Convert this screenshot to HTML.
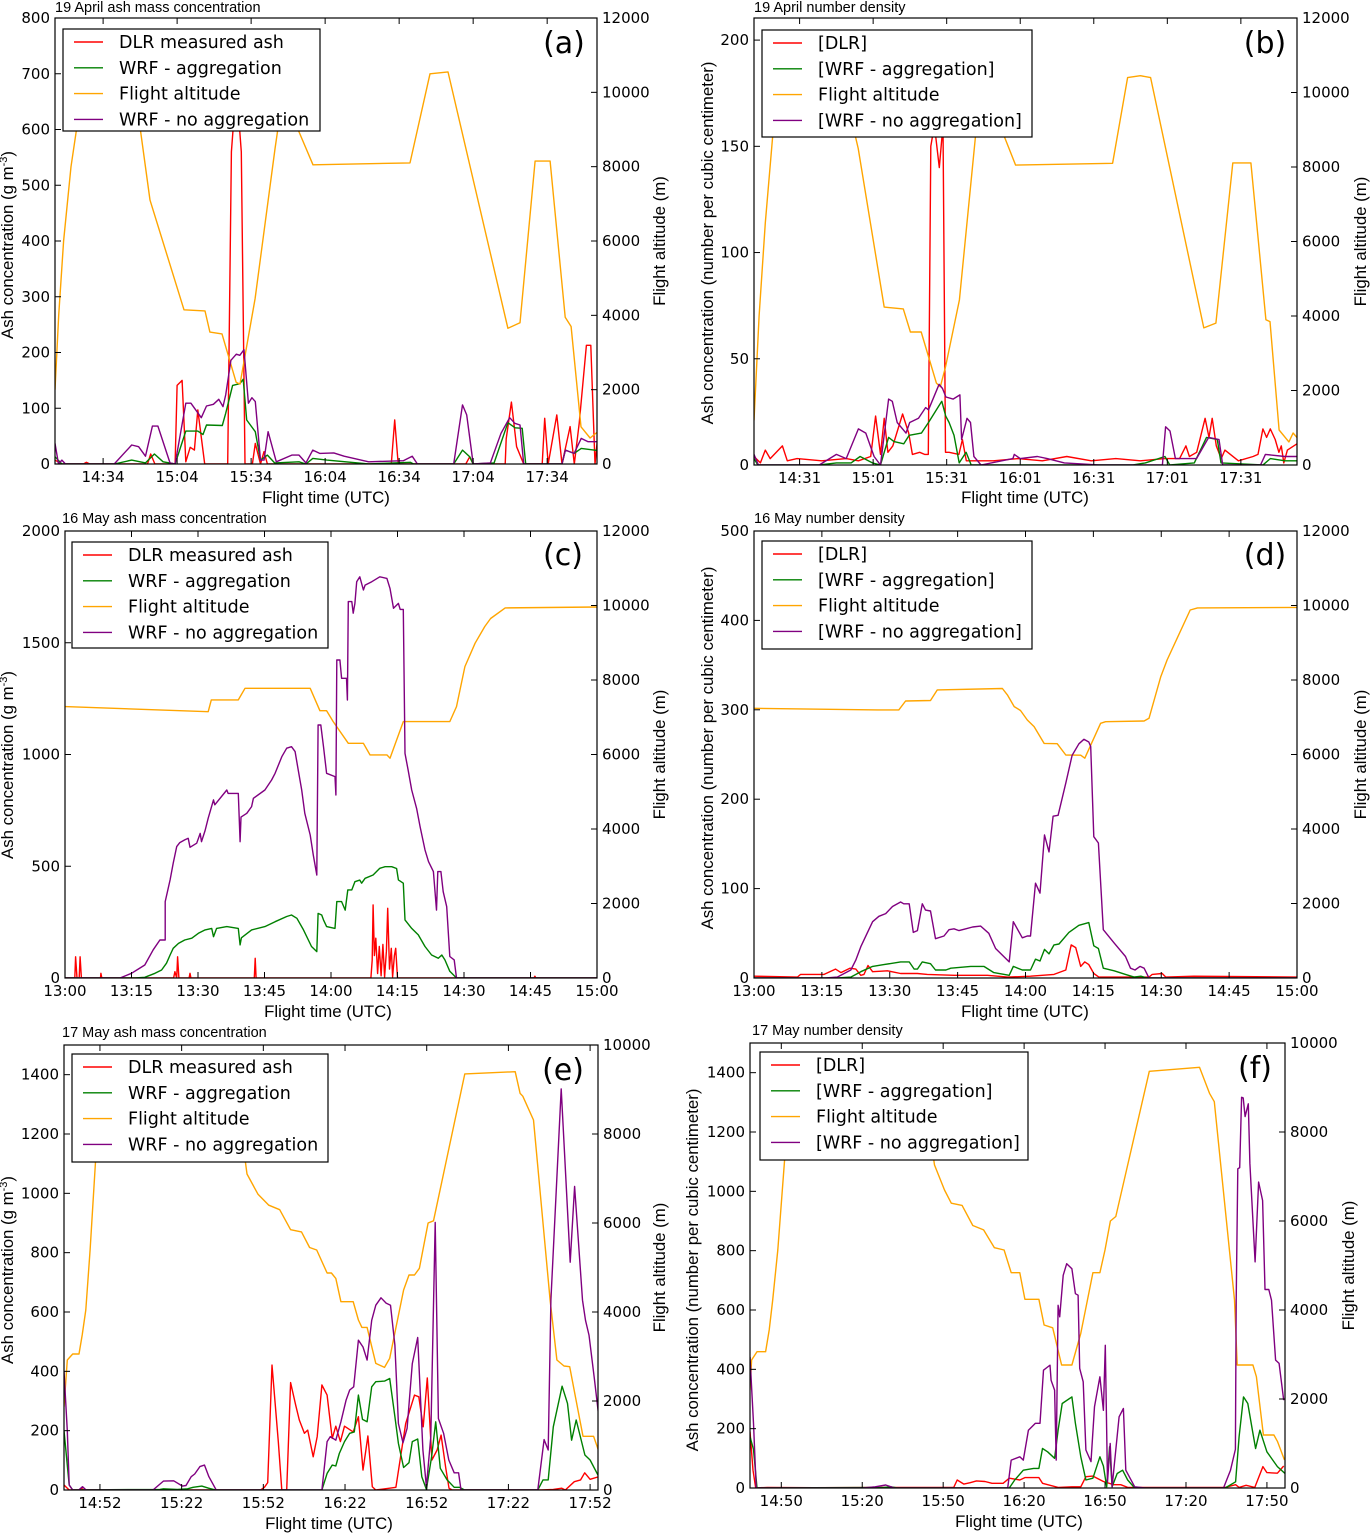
<!DOCTYPE html>
<html><head><meta charset="utf-8"><style>
html,body{margin:0;padding:0;background:#fff}
svg{display:block}
text{font-family:"DejaVu Sans","Liberation Sans",sans-serif;fill:#000}
.ttl{font-family:"Liberation Sans",sans-serif;font-size:14.5px}
.axl{font-family:"Liberation Sans",sans-serif;font-size:16.8px}
</style></head><body>
<svg id="chart" width="1370" height="1533" viewBox="0 0 1370 1533" xmlns="http://www.w3.org/2000/svg"></svg>
<script>
// ---------- DATA (time in minutes after base hour, value) ----------
const seriesNames = ['DLR measured ash','WRF - aggregation','Flight altitude','WRF - no aggregation'];
const seriesNamesND = ['[DLR]','[WRF - aggregation]','Flight altitude','[WRF - no aggregation]'];
// panel a: 19 April mass
const aXTicks=[34,64,94,124,154,184,214];
const aXLabels=['14:34','15:04','15:34','16:04','16:34','17:04','17:34'];
const aYTicks=[0,100,200,300,400,500,600,700,800];
const aY2Ticks=[0,2000,4000,6000,8000,10000,12000];
const aRed=[[14.5,7],[17.3,0],[26,0],[27.2,3],[28.6,0],[52,0],[53.3,18],[55,0],[63.2,0],[64,141],[66,150],[67.5,4],[69.3,30],[71,25],[72.4,97],[75.2,0],[82.3,0],[84.5,0],[86,560],[87,620],[89,620],[90,560],[91.5,0],[94.5,0],[95.7,37],[97.8,0],[99.2,22],[100.6,0],[150.8,0],[152.2,79],[153.6,0],[181,0],[182.6,13],[184,0],[197,0],[197.4,45],[199.5,111],[201.6,31],[204.5,0],[212,0],[213,82],[214.4,0],[217.9,88],[220,0],[223.3,67],[225,0],[227,73],[229.9,213],[231.7,213],[233.4,0],[234.8,64]];
const aGreen=[[14.5,13],[17.3,0],[38.5,0],[45.6,7],[51.2,2],[54.8,18],[58.3,4],[63.2,0],[67.5,59],[72.4,59],[74.5,53],[75.9,70],[82.3,69],[83.7,91],[86.5,141],[89.4,144],[90.8,152],[92.2,79],[95.7,58],[97.8,7],[100.6,16],[103.5,2],[113.4,4],[116.2,0],[119,10],[124.7,7],[141.6,0],[158.6,3],[159.8,0],[176.1,0],[179.7,25],[182.6,13],[184,0],[192.5,2],[198.1,74],[201,65],[203.9,64],[205.3,0],[220,0],[221.4,25],[224.9,19],[227.8,28],[234.8,24]];
const aAlt=[[14.5,2000],[16,4000],[18,6000],[21,8000],[25,9800],[30,11000],[45,11000],[53,7100],[66.8,4150],[75.3,4120],[77.3,3550],[82.2,3500],[87.9,2200],[89.5,2150],[95.6,4450],[103.7,8500],[107,10000],[110,10300],[113,9000],[119.1,8050],[158.4,8100],[166.5,10500],[173.8,10550],[198.1,3650],[203,3800],[209.1,8150],[215.2,8150],[221.3,3950],[223.7,3700],[227.7,1000],[231.4,700],[234.2,850]];
const aPurple=[[14.5,37],[15.9,0],[17.3,7],[18.7,0],[38.5,0],[45.6,34],[48.4,31],[51.2,14],[54,68],[56.2,68],[61.1,2],[63.2,0],[67.5,109],[69.6,109],[73.8,83],[75.9,104],[78.7,107],[80.9,116],[82.6,103],[83.7,124],[85.8,186],[88,197],[89.4,195],[91.1,205],[92.9,109],[94.3,119],[95.7,112],[97.8,7],[99.2,7],[100.9,58],[104.2,4],[110.5,16],[113.4,16],[116.2,2],[119,25],[121.8,19],[127.5,20],[131.7,14],[141.6,4],[155.7,6],[159.3,14],[161.4,0],[176.1,0],[179.7,106],[181.4,88],[184,0],[191,2],[195.3,55],[198.8,83],[200.9,73],[203,70],[204.5,0],[220,0],[221.4,25],[224.9,19],[227.8,46],[230.6,40],[234.8,40]];
// panel b: 19 April number density
const bXTicks=[31,61,91,121,151,181,211];
const bXLabels=['14:31','15:01','15:31','16:01','16:31','17:01','17:31'];
const bYTicks=[0,50,100,150,200];
const bY2Ticks=[0,2000,4000,6000,8000,10000,12000];
const bRed=[[12.4,4],[15,1],[17,7],[19,3],[24,9],[26,2],[30,3],[40,2],[50,3],[55,2],[60,4],[62,23],[64,5],[65.5,22],[67,6],[69,9],[73,24],[75.5,15],[77,5],[80,6],[82,5],[83.5,5],[84.5,150],[86,160],[88,140],[89.5,160],[90.5,6],[92,6],[96,5],[97.4,12],[99,2],[110,2],[120,3],[130,2],[140,4],[150,2],[160,3],[170,2],[180,3],[186,3],[188.6,9],[190,4],[193,6],[196.4,22],[198,13],[199.3,22],[201,9],[203,3],[204.5,7],[210,2],[216,4],[218,5],[220,17],[221.5,13],[223,17],[225,12],[226.5,6],[227.5,9],[228.5,1],[230,7],[233.9,10]];
const bGreen=[[12.4,3],[14,0],[39,0],[46,1],[52,1],[55.7,4],[60.7,1],[64,0],[67.3,13],[69.5,11],[73.5,10],[75.7,14],[80.7,15],[83.6,20],[87.9,28],[89,30],[90.6,23],[92,20],[94,14],[96.1,1],[98.9,6],[101,0],[167,0],[172,1],[180,4],[182,0],[192,1],[197,13],[201.4,12],[202.9,1],[220,0],[223,3],[229,2],[233.9,2]];
const bAlt=[[12.4,1200],[14.5,4000],[17,6500],[20,8800],[24,10300],[28,11000],[46,11000],[54.9,8500],[65.5,4240],[73.3,4190],[76.2,3570],[80.6,3570],[86.8,2200],[88.4,2100],[90.5,2630],[96.2,4430],[102.7,8800],[106,10000],[110,10200],[114,8900],[119.1,8050],[158.7,8100],[164.8,10400],[170,10450],[174.2,10400],[195.9,3680],[200.8,3810],[207.7,8110],[215.1,8110],[221.2,3900],[222.9,3850],[226.6,940],[230.6,620],[232.3,860],[234.4,700]];
const bPurple=[[12.4,5],[14.2,0],[39,0],[46,5],[50,3],[55,17],[58,15],[61.4,4],[64,0],[67.3,31],[68.8,30],[70.8,20],[74.4,15],[75.9,20],[79.5,22],[82.4,27],[83.6,26],[87.9,38],[89.3,36],[90.7,32],[93.6,31],[96.4,33],[97.1,12],[99.3,22],[100.7,20],[102.1,4],[105,0],[118,3],[118.6,5],[121,3],[128,4],[132,3],[139,1],[153,0],[179,0],[180.3,18],[182.1,16],[184.3,3],[192.9,3],[197.9,13],[202.1,12],[203.6,0],[219,0],[221,5],[229,4],[233.9,4]];
// panel c: 16 May mass
const cXTicks=[0,15,30,45,60,75,90,105,120];
const cXLabels=['13:00','13:15','13:30','13:45','14:00','14:15','14:30','14:45','15:00'];
const cYTicks=[0,500,1000,1500,2000];
const cY2Ticks=[0,2000,4000,6000,8000,10000,12000];
const cRed=[[0,0],[2.2,0],[2.4,95],[2.7,0],[3.2,0],[3.4,95],[3.7,0],[8,0],[8.1,21],[8.3,0],[24.5,0],[24.8,28],[25.2,0],[25.4,95],[25.7,0],[28,0],[28.2,21],[28.4,0],[42.7,0],[42.9,88],[43.1,0],[69,0],[69.3,80],[69.5,327],[69.8,100],[70.1,178],[70.5,20],[70.9,141],[71.3,10],[71.7,150],[72.1,5],[72.5,120],[72.8,312],[73.2,40],[73.6,133],[73.9,5],[74.3,100],[74.6,133],[75,0],[105.8,0],[106,8],[106.2,0],[120,0]];
const cGreen=[[0,0],[15.8,0],[18,3],[20.3,21],[21.8,36],[22.9,66],[23.7,103],[24.4,133],[25.6,155],[27,170],[28.6,178],[30.1,200],[31.6,215],[33.1,222],[33.5,185],[34.2,222],[36.5,230],[39.1,222],[39.5,148],[39.8,180],[42.1,215],[45.1,230],[47.4,252],[50,275],[51.1,282],[52.3,267],[53.8,215],[55.6,141],[56.8,118],[57.1,289],[57.9,282],[58.3,260],[59,230],[60.9,222],[61.3,342],[62.4,342],[63.2,304],[63.8,394],[64.7,394],[65.4,431],[66.5,438],[66.9,424],[67.7,446],[69.5,461],[71,491],[72.2,498],[73.7,498],[74.8,490],[75.2,439],[76.3,424],[76.7,260],[78.2,222],[79.7,193],[81.2,141],[82.7,103],[84.2,88],[85,103],[85.7,81],[86.8,30],[88.3,0],[120,0]];
const cAlt=[[0,7286],[32.3,7150],[33,7465],[39.1,7465],[40.6,7778],[55.3,7778],[57.5,7177],[59,7177],[60.5,6882],[63.9,6301],[67.3,6301],[68.8,5988],[72.6,5988],[73.3,5900],[76.3,6882],[86.8,6882],[88.3,7286],[90.2,8360],[92.5,8987],[94.7,9435],[96,9650],[99.3,9935],[120,9960]];
const cPurple=[[0,0],[12.4,0],[15,21],[16.5,40],[18,58],[19.9,126],[21.4,170],[22.6,170],[22.6,342],[23.7,439],[24.4,513],[25.2,588],[25.9,606],[27,618],[27.8,625],[28.2,585],[29.7,603],[30.5,647],[30.8,610],[31.6,660],[32.3,715],[33.5,797],[33.8,775],[36.5,841],[36.8,826],[39.1,826],[39.5,610],[39.7,720],[41,737],[42.1,767],[42.5,804],[45.1,841],[46.6,886],[47.4,916],[48.9,990],[50,1028],[51.1,1035],[51.9,1013],[52.6,931],[53.4,841],[54.1,737],[55.3,640],[56,550],[56.8,461],[57.1,1132],[57.7,1132],[58.3,1035],[59,916],[60.9,901],[61.1,819],[61.3,1423],[62,1423],[62.4,1341],[63.5,1341],[63.7,1244],[63.9,1684],[64.7,1684],[65,1632],[65.4,1676],[65.8,1773],[66.5,1795],[67.3,1736],[67.7,1758],[69.2,1773],[71,1795],[72.6,1788],[73.3,1743],[74.1,1654],[75.2,1676],[75.6,1649],[76.3,1649],[76.7,1005],[77.4,931],[78.2,841],[79.3,759],[80.1,677],[81.2,573],[82,521],[83.1,476],[83.8,304],[84.1,476],[84.8,476],[85.3,386],[86.1,319],[86.8,96],[87.8,81],[88.3,0],[120,0]];
// panel d: 16 May number density
const dXTicks=[0,15,30,45,60,75,90,105,120];
const dXLabels=['13:00','13:15','13:30','13:45','14:00','14:15','14:30','14:45','15:00'];
const dYTicks=[0,100,200,300,400,500];
const dY2Ticks=[0,2000,4000,6000,8000,10000,12000];
const dRed=[[0,2],[9.6,1],[10.3,4],[15.5,4],[18,10],[19.2,6],[21.2,11],[22.5,10],[23.6,3],[24.3,4],[25.2,14],[26.2,7],[29.5,8],[32.4,5],[36.1,5],[38.3,4],[44.2,3],[51.6,3],[56,1],[61.1,2],[66.3,4],[68.9,9],[70.1,37],[71.1,34],[72.2,13],[73.1,18],[74,15],[75.1,5],[76.2,1],[87.3,1],[88,4],[90.2,5],[91,1],[97.2,2],[120,1]];
const dGreen=[[0,0],[18.4,0],[21.4,1],[23.6,7],[26.2,13],[28.7,15],[32.4,18],[34.3,18],[35.4,10],[36.1,10],[37.2,18],[39,16],[40.1,9],[42.4,9],[43.5,11],[47.9,13],[50.8,13],[53,6],[56.4,3],[57.3,13],[59.3,9],[61.1,9],[62.2,21],[63.2,19],[64.2,32],[65.2,27],[66.3,37],[67.4,38],[69.6,51],[71.8,59],[74,62],[75.1,36],[76.1,33],[77.2,11],[79.6,8],[82.1,4],[84,1],[85.5,2],[86.9,0],[120,0]];
const dAlt=[[0,7241],[27.3,7196],[32,7196],[33.5,7437],[39,7450],[40.5,7733],[54.9,7773],[56,7600],[57.5,7285],[58.9,7180],[60.4,6927],[61.9,6750],[64.1,6299],[67,6290],[68.9,5987],[72.2,5980],[73.1,5902],[76.6,6838],[77.7,6880],[86.2,6900],[87.3,6972],[89.9,8091],[91.3,8538],[96.4,9880],[98,9935],[120,9950]];
const dPurple=[[0,0],[15.8,0],[18.4,1],[21.4,9],[22.5,20],[23.6,35],[25,50],[26.2,63],[27.6,69],[29.1,72],[30.6,80],[32.4,85],[33.1,83],[34.3,83],[35.2,51],[36.1,53],[37.2,83],[37.9,76],[39,75],[40.1,44],[42,47],[43.1,54],[44.2,55],[45.3,53],[46.8,55],[48.3,57],[50.1,58],[51.9,50],[53.4,33],[56.4,18],[57.3,63],[59.3,45],[60.4,47],[61.1,47],[62.2,106],[63.2,95],[64.2,160],[65.2,141],[66.1,181],[67.2,182],[68.9,218],[70.3,249],[71.8,262],[72.9,267],[74,264],[74.4,259],[75.1,158],[76.1,151],[77.2,54],[79.6,39],[82.1,24],[83.2,11],[84.2,9],[85.3,13],[86.2,11],[87.3,0],[120,0]];
// panel e: 17 May mass
const eXTicks=[52,82,112,142,172,202,232];
const eXLabels=['14:52','15:22','15:52','16:22','16:52','17:22','17:52'];
const eYTicks=[0,200,400,600,800,1000,1200,1400];
const eY2Ticks=[0,2000,4000,6000,8000,10000];
const eRed=[[38.8,17],[40.7,0],[44.5,0],[45.2,6],[46,0],[111,0],[112.4,9],[113.6,25],[115.2,421],[117.5,163],[118.8,0],[120.6,0],[122,362],[123.9,286],[125.2,236],[127.1,191],[128.3,202],[130.3,112],[131.8,180],[133.5,354],[135.4,320],[137.3,174],[138.6,215],[140.3,163],[141.8,215],[145,196],[146.9,247],[148.6,67],[150.4,182],[152,11],[153.3,0],[158.4,6],[160.7,9],[164.3,224],[167.5,320],[169.1,314],[170.7,213],[172.2,378],[173.9,101],[175.8,135],[177.3,185],[179,73],[180.2,6],[181.4,0],[214.1,0],[218.5,2],[221.6,6],[222.9,0],[226.2,28],[228.5,34],[230,58],[232,36],[235.2,45]];
const eGreen=[[38.8,200],[40.7,17],[42,0],[74,2],[75.3,4],[80.4,2],[84.2,4],[86.2,9],[89.4,13],[91.9,6],[94.5,0],[133.5,0],[135.4,56],[137.3,84],[138.6,81],[139.9,123],[141.8,163],[143.7,191],[145.4,196],[146.9,320],[148.4,238],[150.1,230],[151.8,348],[153.3,365],[156.5,367],[158.4,376],[160.3,247],[161.6,157],[163.5,76],[165.5,92],[166.7,163],[168.7,172],[170.2,45],[171.9,2],[173.8,112],[175.3,230],[177,73],[179.5,34],[182.1,9],[184,9],[185.9,0],[212.8,0],[214.7,34],[216.6,34],[218.5,213],[221.7,350],[223.7,292],[225.2,168],[226.9,236],[230.1,118],[232,101],[235.2,45]];
const eAlt=[[38.8,1872],[40,2921],[42,3056],[44.3,3056],[45.5,3483],[46.8,4045],[48.4,5393],[51,8000],[54,9400],[101,9400],[106,7100],[110,6650],[114,6400],[118,6300],[122,5850],[126,5800],[129,5450],[131.6,5393],[135.4,4876],[137,4876],[138.6,4756],[140.5,4231],[145,4231],[146.9,3820],[148.2,3655],[150.1,3655],[153.3,2846],[156.5,2756],[158.4,2959],[163.5,4494],[165.5,4831],[167.5,4831],[169.3,4981],[170.6,5393],[172.5,6000],[174.5,6050],[186,9350],[204.5,9400],[206.3,8913],[207.3,8850],[211.2,8314],[217.3,4269],[219.8,2921],[222.4,2786],[224.5,2770],[227.5,1813],[229.4,1206],[233.3,1206],[235.2,869]];
const ePurple=[[38.8,400],[40,200],[40.7,17],[42,0],[44.2,0],[45.6,11],[46.9,0],[71.5,0],[75.3,30],[79.1,31],[82.3,13],[83.6,15],[85.5,45],[86.8,54],[88.7,79],[90.4,84],[92,45],[94.7,0],[133.5,0],[135.4,163],[136.6,180],[138.6,168],[140.5,230],[142.4,303],[143.7,337],[145.2,348],[146.9,505],[148.6,482],[150.1,438],[151.8,572],[153.3,623],[155.2,648],[157.1,630],[158.7,623],[160.3,488],[161.6,224],[163.3,159],[164.8,208],[166.7,426],[168.7,514],[170.6,135],[171.9,11],[173.5,180],[175.1,902],[176.3,241],[178.2,191],[180.1,101],[182.1,58],[183.7,58],[184.6,0],[212.8,0],[215.1,170],[216.6,135],[217.6,640],[221.4,1352],[224.7,768],[226.3,1023],[229.2,640],[230.3,572],[231.6,522],[233.5,380],[235.2,247]];
// panel f: 17 May number density
const fXTicks=[50,80,110,140,170,200,230];
const fXLabels=['14:50','15:20','15:50','16:20','16:50','17:20','17:50'];
const fYTicks=[0,200,400,600,800,1000,1200,1400];
const fY2Ticks=[0,2000,4000,6000,8000,10000];
const fRed=[[38.4,190],[39.5,60],[40.5,0],[44.8,2],[62,1],[100,2],[113.9,2],[115.2,27],[117.7,13],[120,18],[122.3,24],[125.5,22],[128.1,16],[132.2,16],[134.5,33],[138.4,27],[140.3,35],[145.5,35],[146.8,16],[152.6,2],[157.7,4],[161,4],[162.9,38],[165.5,40],[169.4,22],[173.2,11],[175.8,11],[178.4,2],[214.5,2],[218.4,11],[219.7,2],[222.3,9],[225.5,2],[228.5,72],[230,52],[233.9,50],[236.2,74]];
const fGreen=[[38.4,173],[39.7,130],[41,0],[88,2],[90.6,4],[93,0],[134.5,0],[136.5,27],[139.7,60],[143.5,66],[145.5,66],[146.8,133],[148.7,122],[151.3,100],[152.6,195],[154.1,285],[157.7,307],[159,218],[161,105],[162.9,27],[165.5,33],[168.1,105],[169.4,74],[170.6,4],[171.7,139],[172.6,4],[174.5,49],[176.5,60],[178.4,27],[181,0],[214.5,0],[218.4,21],[219.7,173],[221.3,307],[222.9,285],[224.6,195],[225.8,133],[227.4,195],[230,122],[233.9,72],[236.7,49]];
const fAlt=[[38.4,2200],[39,2876],[41,3063],[44.2,3063],[45.5,3551],[46.8,4225],[48.7,5348],[52,8000],[55,9300],[102,9300],[106.8,7258],[110.5,6697],[113,6400],[117,6350],[121,5900],[125,5800],[129,5400],[132.6,5348],[135.2,4838],[138.4,4838],[140.3,4240],[145.5,4240],[147.4,3663],[150.6,3600],[153.9,2764],[157.7,2764],[161,3476],[165.5,4838],[168.1,4838],[170,5348],[172,6000],[174,6100],[186.4,9363],[205,9453],[208.7,8869],[210.5,8680],[218,4224],[219,2764],[224.8,2764],[226.1,2501],[228.7,1191],[232.6,1191],[233.9,1050],[236.5,629]];
const fPurple=[[38.4,442],[39.7,218],[40.7,0],[80.3,0],[84.8,4],[88.7,10],[92,0],[133.9,0],[135.2,94],[138.4,105],[139.7,94],[141.6,195],[144.2,218],[145.9,218],[147.2,397],[148.7,408],[149.6,414],[150,363],[151.3,330],[151.9,94],[152.6,616],[153.2,577],[154.5,717],[155.8,756],[157.7,739],[159,655],[160,650],[160.6,403],[161.9,358],[162.9,128],[164.8,89],[166.1,274],[168.1,375],[169.4,262],[170.1,481],[170.9,20],[171.9,150],[172.6,4],[175.2,240],[176.8,268],[177.7,60],[181,4],[184.8,0],[213.9,0],[216.5,60],[218.3,130],[218.6,633],[219.2,1076],[219.9,1080],[220.6,1317],[221.2,1315],[221.9,1252],[223.1,1295],[223.7,1093],[225.6,762],[226.9,1031],[228.4,969],[229.3,669],[230.7,669],[231.7,633],[233.2,431],[234.5,420],[236.2,296]];

// ---------- RENDERING ----------
const NS='http://www.w3.org/2000/svg';
const svg=document.getElementById('chart');
const COLORS={red:'#ff0000',green:'#008000',alt:'#ffa500',purple:'#800080'};
function mk(tag,attrs,parent){const e=document.createElementNS(NS,tag);for(const k in attrs)e.setAttribute(k,attrs[k]);(parent||svg).appendChild(e);return e;}
function txt(str,x,y,attrs,parent){const t=mk('text',Object.assign({x:x,y:y},attrs||{}),parent);t.textContent=str;return t;}

const panels=[
 {id:'a',L:55,R:597,T:18,B:464,x0:14.5,x1:234.2,y1:800,y21:12000,xt:aXTicks,xl:aXLabels,yt:aYTicks,y2t:aY2Ticks,red:aRed,green:aGreen,alt:aAlt,purple:aPurple,names:seriesNames,
  title:'19 April ash mass concentration',tx:55,ty:12,ylab:'mass',ylx:13,yly:245,y2lx:665,xlx:326,xly:503,leg:[63,29,257,102],lab:'(a)',lx:564,ly:53},
 {id:'b',L:754,R:1297,T:18,B:465,x0:12.4,x1:233.9,y1:210.4,y21:12000,xt:bXTicks,xl:bXLabels,yt:bYTicks,y2t:bY2Ticks,red:bRed,green:bGreen,alt:bAlt,purple:bPurple,names:seriesNamesND,
  title:'19 April number density',tx:754,ty:12,ylab:'num',ylx:713,yly:243,y2lx:1366,xlx:1025,xly:503,leg:[762,30,270,107],lab:'(b)',lx:1265,ly:53},
 {id:'c',L:65,R:597,T:531,B:978,x0:0,x1:120,y1:2000,y21:12000,xt:cXTicks,xl:cXLabels,yt:cYTicks,y2t:cY2Ticks,red:cRed,green:cGreen,alt:cAlt,purple:cPurple,names:seriesNames,
  title:'16 May  ash mass concentration',tx:62,ty:523,ylab:'mass',ylx:13,yly:765,y2lx:665,xlx:328,xly:1017,leg:[72,542,256,106],lab:'(c)',lx:563,ly:565},
 {id:'d',L:754,R:1297,T:531,B:978,x0:0,x1:120,y1:500,y21:12000,xt:dXTicks,xl:dXLabels,yt:dYTicks,y2t:dY2Ticks,red:dRed,green:dGreen,alt:dAlt,purple:dPurple,names:seriesNamesND,
  title:'16 May  number density',tx:754,ty:523,ylab:'num',ylx:713,yly:748,y2lx:1366,xlx:1025,xly:1017,leg:[762,541,270,108],lab:'(d)',lx:1265,ly:565},
 {id:'e',L:64,R:598,T:1045,B:1490,x0:38.8,x1:234.9,y1:1500,y21:10000,xt:eXTicks,xl:eXLabels,yt:eYTicks,y2t:eY2Ticks,red:eRed,green:eGreen,alt:eAlt,purple:ePurple,names:seriesNames,
  title:'17 May ash mass concentration',tx:62,ty:1037,ylab:'mass',ylx:13,yly:1270,y2lx:665,xlx:329,xly:1529,leg:[72,1054,256,108],lab:'(e)',lx:563,ly:1080},
 {id:'f',L:750,R:1285,T:1043,B:1488,x0:38.4,x1:236.7,y1:1500,y21:10000,xt:fXTicks,xl:fXLabels,yt:fYTicks,y2t:fY2Ticks,red:fRed,green:fGreen,alt:fAlt,purple:fPurple,names:seriesNamesND,
  title:'17 May  number density',tx:752,ty:1035,ylab:'num',ylx:698,yly:1270,y2lx:1354,xlx:1019,xly:1527,leg:[760,1052,268,108],lab:'(f)',lx:1255,ly:1078}
];

panels.forEach(function(p){
  const g=mk('g',{});
  
  
  const sx=function(t){return p.L+(t-p.x0)/(p.x1-p.x0)*(p.R-p.L);};
  const sy=function(v){return p.B-v/p.y1*(p.B-p.T);};
  const sy2=function(v){return p.B-v/p.y21*(p.B-p.T);};
  const cp=mk('clipPath',{id:'clip-'+p.id},g);
  mk('rect',{x:p.L,y:p.T,width:p.R-p.L,height:p.B-p.T},cp);
  const defs=[['red',p.red,sy],['green',p.green,sy],['alt',p.alt,sy2],['purple',p.purple,sy]];
  const sg=mk('g',{'clip-path':'url(#clip-'+p.id+')'},g);
  defs.forEach(function(d){
    const pts=d[1].map(function(q){return sx(q[0]).toFixed(1)+','+d[2](q[1]).toFixed(1);}).join(' ');
    const pl=mk('polyline',{points:pts,fill:'none',stroke:COLORS[d[0]],'stroke-width':1.4,'stroke-linejoin':'round'},sg);
    
    
  });
  const fr=mk('rect',{x:p.L,y:p.T,width:p.R-p.L,height:p.B-p.T,fill:'none',stroke:'#000','stroke-width':1.2},g);
  
  
  p.xt.forEach(function(t,i){
    const x=sx(t);
    mk('line',{x1:x,y1:p.B,x2:x,y2:p.B-6,stroke:'#000','stroke-width':1},g);
    mk('line',{x1:x,y1:p.T,x2:x,y2:p.T+6,stroke:'#000','stroke-width':1},g);
    const tl=txt(p.xl[i],x,p.B+18,{'font-size':15,'text-anchor':'middle'},g);
    
    
  });
  p.yt.forEach(function(v){
    const y=sy(v);
    mk('line',{x1:p.L,y1:y,x2:p.L+6,y2:y,stroke:'#000','stroke-width':1},g);
    const tl=txt(String(v),p.L-5,y+5,{'font-size':15,'text-anchor':'end'},g);
    
    
  });
  p.y2t.forEach(function(v){
    const y=sy2(v);
    mk('line',{x1:p.R,y1:y,x2:p.R-6,y2:y,stroke:'#000','stroke-width':1},g);
    const tl=txt(String(v),p.R+5,y+5,{'font-size':15,'text-anchor':'start'},g);
    
    
  });
  const ti=txt(p.title,p.tx,p.ty,{'class':'ttl'},g);
  
  
  const xl=txt('Flight time (UTC)',p.xlx,p.xly,{'class':'axl','text-anchor':'middle'},g);
  
  
  const yl=mk('text',{x:0,y:0,'class':'axl','text-anchor':'middle',transform:'translate('+p.ylx+','+p.yly+') rotate(-90)'},g);
  if(p.ylab==='mass'){
    yl.appendChild(document.createTextNode('Ash concentration (g m'));
    const sup=mk('tspan',{'font-size':11,dy:-6},yl);sup.textContent='-3';
    const rest=mk('tspan',{dy:6},yl);rest.textContent=')';
  } else {
    yl.textContent='Ash concentration (number per cubic centimeter)';
  }
  
  
  const y2l=mk('text',{x:0,y:0,'class':'axl','text-anchor':'middle',transform:'translate('+p.y2lx+','+((p.T+p.B)/2)+') rotate(-90)'},g);
  y2l.textContent='Flight altitude (m)';
  
  
  const lg=mk('g',{},g);
  
  
  mk('rect',{x:p.leg[0],y:p.leg[1],width:p.leg[2],height:p.leg[3],fill:'#fff',stroke:'#000','stroke-width':1.2},lg);
  const lc=[COLORS.red,COLORS.green,COLORS.alt,COLORS.purple];
  p.names.forEach(function(n,i){
    const yy=p.leg[1]+13+i*25.8;
    mk('line',{x1:p.leg[0]+11,y1:yy,x2:p.leg[0]+40,y2:yy,stroke:lc[i],'stroke-width':1.4},lg);
    const lt=txt(n,p.leg[0]+56,yy+6,{'font-size':17.5},lg);
    
    
  });
  const pl=txt(p.lab,p.lx,p.ly,{'font-size':30,'text-anchor':'middle','font-family':'Liberation Sans, sans-serif'},g);
  
  
});
</script>
</body></html>
